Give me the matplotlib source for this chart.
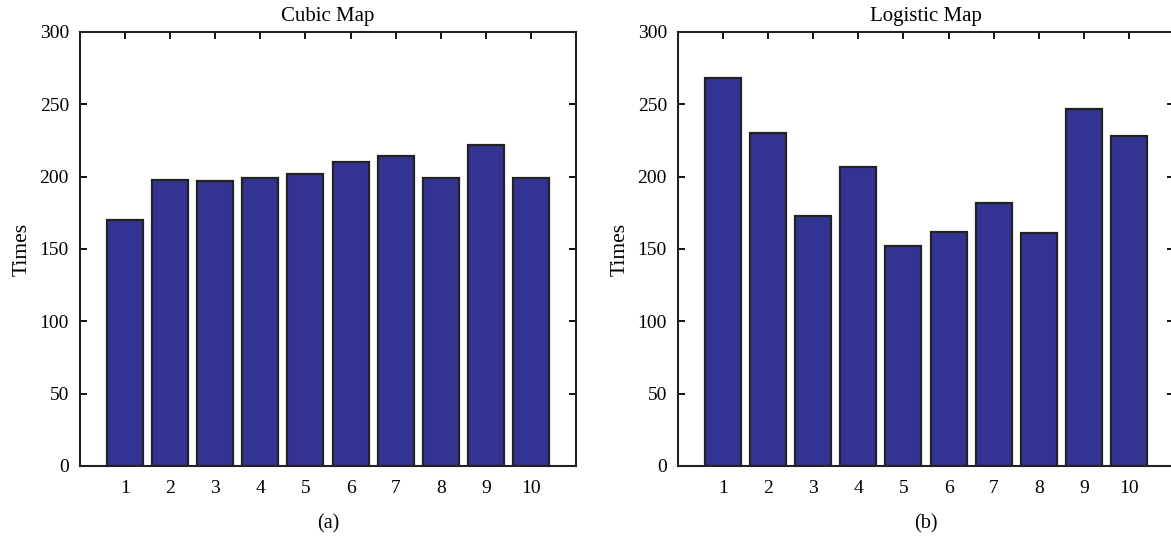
import matplotlib
matplotlib.use("Agg")
import matplotlib.pyplot as plt

runs = list(range(1, 11))
cubic_times = [170, 198, 197, 199, 202, 210, 214, 199, 222, 199]
logistic_times = [268, 230, 173, 207, 152, 162, 182, 161, 247, 228]
titles = ["Cubic Map", "Logistic Map"]
captions = ["(a)", "(b)"]
y_ticks = [0, 50, 100, 150, 200, 250, 300]

plt.rcParams['font.family'] = ['Liberation Serif', 'DejaVu Serif']

fig = plt.figure(figsize=(11.71, 5.44), dpi=100)
W, H = 1171, 544
boxes = [(80, 32, 496, 434), (678, 32, 496, 434)]   # left, top, width, height in pixels

for (l, t, w, h), vals, title, cap in zip(boxes, [cubic_times, logistic_times], titles, captions):
    ax = fig.add_axes([l / W, 1 - (t + h) / H, w / W, h / H])
    ax.bar(runs, vals, width=0.8, color='#333393', edgecolor='#222222', linewidth=1.6, zorder=2)
    ax.set_xlim(0, 11)
    ax.set_ylim(0, 300)
    ax.set_xticks(runs)
    ax.set_yticks(y_ticks)
    ax.tick_params(direction='in', length=5, width=1.3, top=True, right=True, labelsize=14)
    ax.tick_params(axis='x', pad=10)
    ax.tick_params(axis='y', pad=8)
    for s in ax.spines.values():
        s.set_linewidth(1.5)
        s.set_color('#222222')
    ax.set_title(title, fontsize=15, pad=8)
    ax.set_ylabel("Times", fontsize=15.5, labelpad=6)
    fig.text((l + w / 2) / W, 1 - 524 / H, cap, ha='center', va='center', fontsize=14.5)

fig.savefig("out.png", dpi=100)
